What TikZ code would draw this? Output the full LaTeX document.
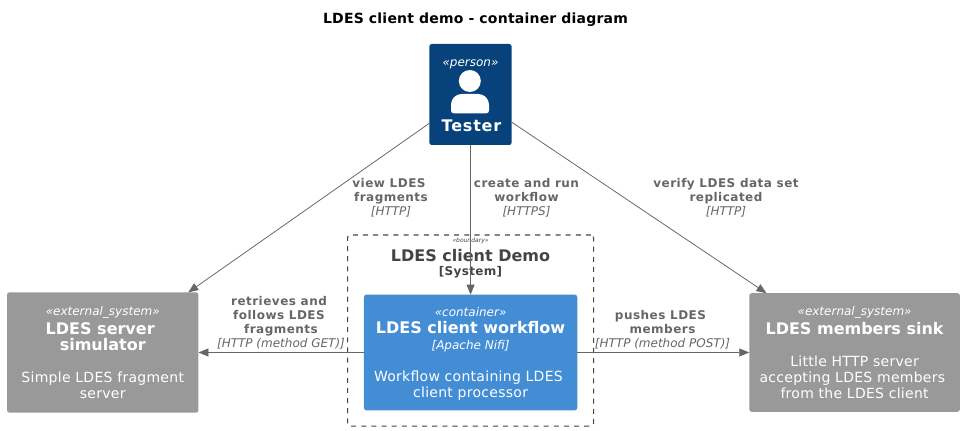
\documentclass[tikz,border=0pt]{standalone}
\usepackage{fontspec}
\setmainfont{DejaVu Sans}
\usetikzlibrary{arrows.meta}
\definecolor{personblue}{HTML}{08427B}
\definecolor{containerblue}{HTML}{438DD5}
\definecolor{extgray}{HTML}{999999}
\definecolor{relgray}{HTML}{666666}
\definecolor{boundgray}{HTML}{444444}
\newcommand{\stereo}[1]{{\fontsize{9}{12}\selectfont\itshape #1}}
\newcommand{\boxname}[1]{{\fontsize{12}{12}\selectfont\bfseries #1}}
\newcommand{\boxdesc}[1]{{\addfontfeature{LetterSpace=2}#1}}
\newcommand{\relname}[1]{{\bfseries\addfontfeature{LetterSpace=4}#1}}
\tikzset{
    c4box/.style={
    inner sep=0pt,
    outer sep=0pt,
    rounded corners=1.9pt,
    text=white,
    align=center,
    font=\fontsize{10.5}{12}\selectfont,
    #1
  },
  rel label/.style={
    text=relgray,
    align=center,
    inner sep=0pt,
    font=\fontsize{9}{10.5}\selectfont,
  }
}

\begin{document}
\begin{tikzpicture}[x=0.75pt,y=-0.75pt]
        \useasboundingbox (0,0) rectangle (964,431);
        \node[font=\fontsize{10.5}{12}\selectfont\bfseries\addfontfeature{LetterSpace=1.5}] (title) at (475.5,19.5) {LDES client demo - container diagram};

        \node[draw=boundgray,line width=.75pt,dash pattern=on 3.8pt off 3.8pt,rounded corners=1.9pt,minimum width=184.5pt,minimum height=143.25pt,inner sep=0pt] (demo) at (470.5,330.5) {};
        \node[text=boundgray,align=center,inner sep=0pt,font=\fontsize{12}{12}\selectfont\bfseries] (demotitle) at (470.5,264) {LDES client Demo\\[-1.2pt]{\fontsize{9}{12}\selectfont\addfontfeature{LetterSpace=3} [System]}};
        \node[text=boundgray,inner sep=0pt,font=\fontsize{4.5}{6}\selectfont\itshape] (demotag) at (470.5,241) {«boundary»};

        \begin{scope}[every node/.append style={minimum height=1pt}]
            \node[c4box={fill=personblue,minimum width=61.8pt,minimum height=75.75pt}] (tester) at (470.5,94.5) {\rule{0pt}{7.6pt}\stereo{«person»}\\[36.8pt]\boxname{\kern1.5pt\addfontfeature{LetterSpace=5}Tester}};
            \node[c4box={fill=containerblue,minimum width=160pt,minimum height=86.8pt}] (workflow) at (470.6,352.5) {\rule{0pt}{8.8pt}\stereo{«container»}\\[1pt]\boxname{LDES client workflow}\\\stereo{[Apache Nifi]}\\[12pt]\boxdesc{Workflow containing LDES\kern3.3pt}\\\boxdesc{client processor}};
            \node[c4box={fill=extgray,minimum width=143.6pt,minimum height=90.2pt}] (simulator) at (102.75,352.5) {\stereo{«external\_system»}\\[2.6pt]\boxname{LDES server\kern3.8pt}\\\boxname{simulator}\\[12pt]\boxdesc{Simple LDES fragment}\\\boxdesc{server}};
            \node[c4box={fill=extgray,minimum width=158pt,minimum height=89pt}] (sink) at (854.6,352.5) {\rule{0pt}{7.55pt}\stereo{«external\_system»}\\[2.25pt]\boxname{LDES members sink}\\[12pt]\boxdesc{Little HTTP server}\\\boxdesc{accepting LDES members\kern3.3pt}\\\boxdesc{from the LDES client}};
        \end{scope}

        % person icon
        \fill[white] (469.8,81) circle (8.25pt);
        \fill[white] [rounded corners=2pt] (451,113.3) [rounded corners=8pt] -- (451,94) -- (489,94) [rounded corners=2pt] -- (489,113.3) -- cycle;

        \begin{scope}[>={Triangle[length=7.5pt,width=6pt]}, every edge/.style={draw=relgray,line width=.55pt,fill=relgray}]
            \path [->] (tester) edge (simulator);
            \path [->] (tester) edge (workflow);
            \path [->] (tester) edge (sink);
            \path [->] (workflow) edge (simulator);
            \path [->] (workflow) edge (sink);
        \end{scope}

        \begin{scope}[every node/.style={rel label}]
            \node (viewlabel) at (391,198) {\relname{view LDES\kern3pt}\\\relname{fragments}\\\textit{[HTTP]}};
            \node (createlabel) at (526.5,198) {\relname{create and run}\\\relname{workflow}\\\textit{[HTTPS]}};
            \node (verifylabel) at (726,198) {\relname{verify LDES data set}\\\relname{replicated}\\\textit{[HTTP]}};
            \node (retrieveslabel) at (281,323) {\relname{retrieves and\kern3pt}\\\relname{follows LDES\kern3pt}\\\relname{fragments}\\\textit{[HTTP (method GET)]}};
            \node (pusheslabel) at (662.5,330) {\relname{pushes LDES\kern3pt}\\\relname{members}\\\textit{[HTTP (method POST)]}};
        \end{scope}
    \end{tikzpicture}
\end{document}
